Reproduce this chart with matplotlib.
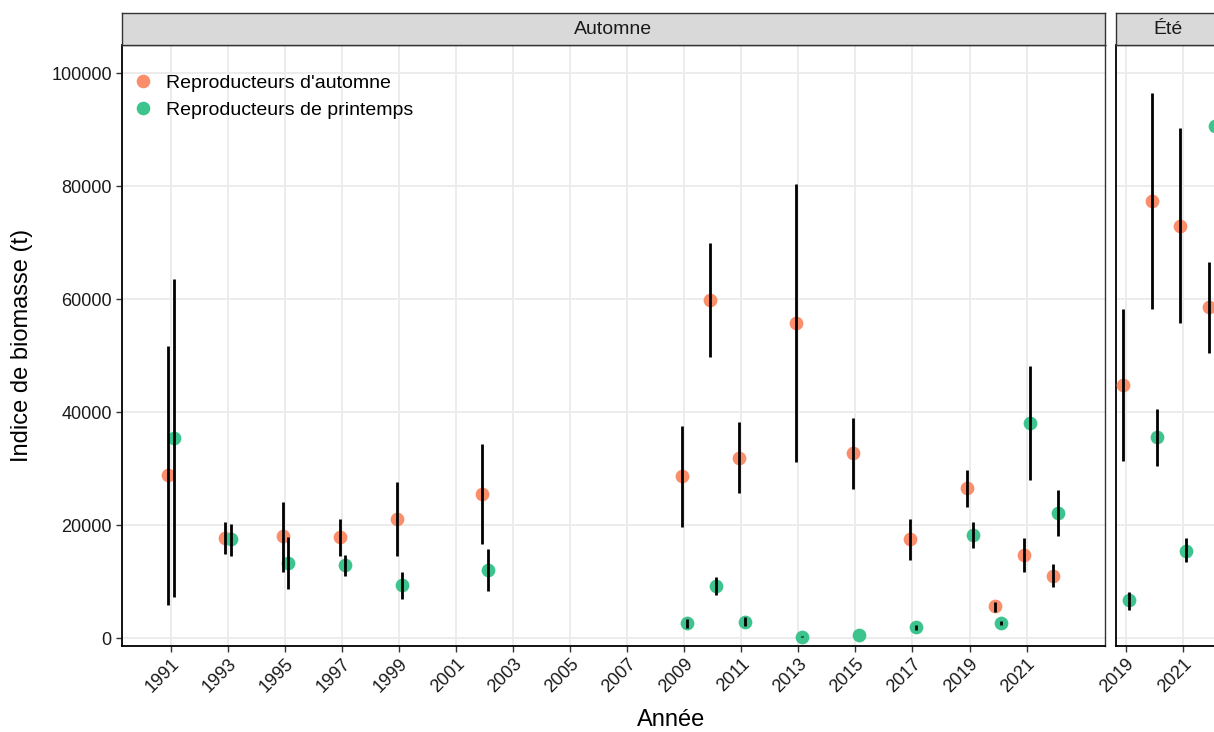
import matplotlib
matplotlib.use("Agg")
import matplotlib.pyplot as plt
from matplotlib.lines import Line2D

plt.rcParams['font.family'] = ['Liberation Sans', 'DejaVu Sans']

# ---------------- data ----------------
# Automne panel
aut_years = [1991, 1993, 1995, 1997, 1999, 2002, 2009, 2010, 2011, 2013, 2015, 2017, 2019, 2020, 2021, 2022]
aut_fall_val = [28850, 17800, 18050, 17880, 21170, 25540, 28670, 59820, 31960, 55860, 32740, 17570, 26550, 5660, 14740, 11080]
aut_fall_lo = [5890, 14870, 11790, 14570, 14620, 16690, 19750, 49790, 25660, 31200, 26420, 13910, 23290, 4710, 11730, 9080]
aut_fall_hi = [51730, 20640, 24180, 21170, 27610, 34390, 37570, 69960, 38230, 80460, 39040, 21110, 29840, 6480, 17700, 13150]
aut_spring_val = [35450, 17520, 13380, 12920, 9430, 12090, 2650, 9260, 2880, 290, 580, 1950, 18280, 2760, 38160, 22180]
aut_spring_lo = [7260, 14620, 8730, 10970, 6960, 8370, 1880, 7720, 2180, 240, 500, 1410, 16030, 2300, 28070, 18110]
aut_spring_hi = [63590, 20280, 17880, 14740, 11790, 15810, 3360, 10800, 3720, 340, 660, 2410, 20530, 3120, 48190, 26190]

# Été panel
ete_years = [2019, 2020, 2021, 2022]
ete_fall_val = [44900, 77430, 73030, 58670]
ete_fall_lo = [31370, 58340, 55850, 50540]
ete_fall_hi = [58340, 96600, 90290, 66640]
ete_spring_val = [6720, 35600, 15520, 90700]
ete_spring_lo = [4980, 30540, 13530, 78260]
ete_spring_hi = [8130, 40500, 17680, 102900]

series_labels = ["Reproducteurs d'automne", "Reproducteurs de printemps"]
series_colors = ["#FA8D6A", "#3DC48E"]
panel_titles = ["Automne", "Été"]
aut_ticks = list(range(1991, 2022, 2))
ete_ticks = [2019, 2021]
y_ticks = [0, 20000, 40000, 60000, 80000, 100000]

# ---------------- layout ----------------
W, H = 1214, 732
fig = plt.figure(figsize=(W / 100, H / 100), dpi=100)

def fx(px):
    return px / W

def fy(py):
    return 1 - py / H

panel_top, panel_bot = 45, 646
strip_top = 12.5
ax1 = fig.add_axes([fx(121.5), fy(panel_bot), fx(1105 - 121.5), (panel_bot - panel_top) / H])
ax2 = fig.add_axes([fx(1115.7), fy(panel_bot), fx(1220 - 1115.7), (panel_bot - panel_top) / H])

ylim = (-1363, 105010)
grid_c = "#EBEBEB"

def style(ax, xlim, ticks, show_y):
    ax.set_xticks(ticks)
    ax.set_xticklabels([str(t) for t in ticks], rotation=45, ha='right',
                       va='top', rotation_mode='anchor', fontsize=13, color='#1A1A1A')
    ax.set_yticks(y_ticks)
    if show_y:
        ax.set_yticklabels([str(t) for t in y_ticks], fontsize=13, color='#1A1A1A')
    else:
        ax.set_yticklabels([])
    ax.tick_params(axis='both', length=4, width=1, color='#333333', pad=3)
    if not show_y:
        ax.tick_params(axis='y', length=0)
    ax.set_xlim(*xlim)
    ax.set_ylim(*ylim)
    ax.grid(True, color=grid_c, linewidth=1.3)
    ax.set_axisbelow(True)
    for s in ax.spines.values():
        s.set_color('#333333')
        s.set_linewidth(1.0)
    ax.spines['left'].set_color('black')
    ax.spines['bottom'].set_color('black')
    ax.spines['left'].set_linewidth(1.3)
    ax.spines['bottom'].set_linewidth(1.3)

def draw(ax, years, fv, flo, fhi, sv, slo, shi):
    xf = [y - 0.09 for y in years]
    xs = [y + 0.11 for y in years]
    ax.scatter(xf, fv, s=98, color=series_colors[0], linewidths=0, zorder=3, label=series_labels[0])
    ax.scatter(xs, sv, s=98, color=series_colors[1], linewidths=0, zorder=3, label=series_labels[1])
    ax.vlines(xf, flo, fhi, color='black', linewidth=2.0, zorder=4)
    ax.vlines(xs, slo, shi, color='black', linewidth=2.0, zorder=4)

draw(ax1, aut_years, aut_fall_val, aut_fall_lo, aut_fall_hi, aut_spring_val, aut_spring_lo, aut_spring_hi)
draw(ax2, ete_years, ete_fall_val, ete_fall_lo, ete_fall_hi, ete_spring_val, ete_spring_lo, ete_spring_hi)

style(ax1, (1989.264, 2023.75), aut_ticks, True)
style(ax2, (2018.65, 2022.3), ete_ticks, False)

# strips
for (l, r), title in [((121.5, 1105), panel_titles[0]), ((1115.7, 1220), panel_titles[1])]:
    sax = fig.add_axes([fx(l), fy(panel_top), fx(r - l), (panel_top - strip_top) / H])
    sax.set_facecolor('#D9D9D9')
    sax.set_xticks([])
    sax.set_yticks([])
    for s in sax.spines.values():
        s.set_color('#333333')
        s.set_linewidth(1.0)
    sax.text(0.5, 0.48, title, ha='center', va='center', fontsize=14, color='#1A1A1A',
             transform=sax.transAxes)

# legend
handles = [Line2D([], [], marker='o', linestyle='none', markersize=9.8, markeredgewidth=0,
                  color=c) for c in series_colors]
ax1.legend(handles, series_labels, loc='upper left', bbox_to_anchor=(-0.004, 0.977),
           frameon=False, fontsize=14, handlelength=1.0, handletextpad=0.7,
           labelspacing=0.46, borderaxespad=0.4)

fig.text(fx(671), fy(720), "Année", ha='center', va='center', fontsize=17, color='black')
fig.text(fx(22), fy(345), "Indice de biomasse (t)", ha='center', va='center',
         rotation=90, fontsize=17, color='black')

fig.savefig("out.png", dpi=100)
